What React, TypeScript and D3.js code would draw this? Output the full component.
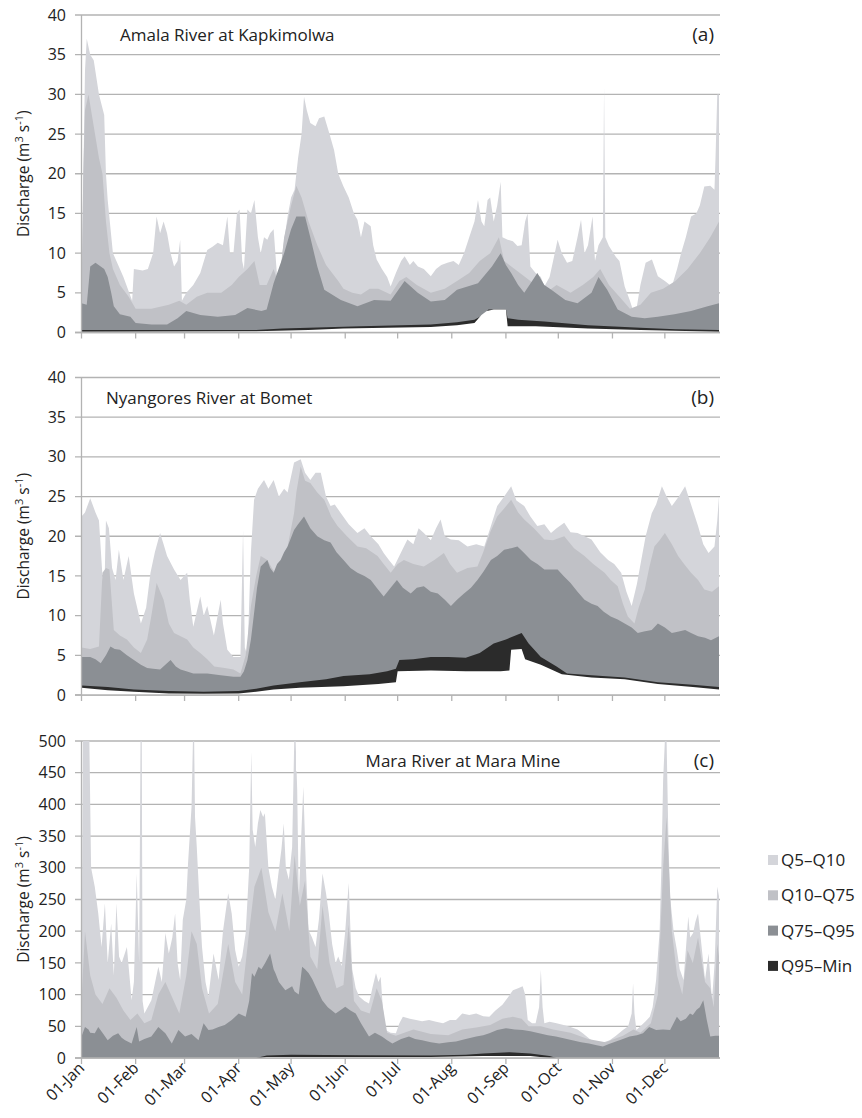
import React from "react";
import * as d3 from "d3";

type Pt = [number, number];

// ---------- axis categories ----------
const monthLabels = ["01-Jan", "01-Feb", "01-Mar", "01-Apr", "01-May", "01-Jun", "01-Jul", "01-Aug", "01-Sep", "01-Oct", "01-Nov", "01-Dec"];
const monthDays = [0, 31, 59, 90, 120, 151, 181, 212, 243, 273, 304, 334];
const seriesNames = ["Q5–Q10", "Q10–Q75", "Q75–Q95", "Q95–Min"];

// ---------- panel (a) Amala River at Kapkimolwa : [day, discharge] ----------
const aQ5: Pt[] = [[0,5],[2,33],[3,37],[5,35],[7,34.3],[10,30],[13,27.4],[14,20],[15,16.7],[18,10],[21,8.5],[24,7],[29,4],[30,8],[35,7.8],[38,8],[41,10],[43,14.6],[45,12.5],[47,14],[49,12.5],[51,10],[53,8.3],[55,9],[56.5,11.7],[57.5,4],[60,5],[64,6],[68,7.5],[72,10.4],[75,10.8],[78,11.3],[81,11],[83.5,14.6],[85,10],[87,10],[89,15],[90.5,15.5],[92,9],[93,8],[95,15.5],[97,15],[99,16.7],[101,12],[102.6,10],[104.5,12],[106.4,11.7],[108,12.5],[110,13],[112,7],[113,3.5],[115,10],[118,14.6],[120,17],[122,18],[124,22],[126,25],[127.4,29.7],[129,28],[131,26.4],[134,26],[136,27],[139,27.2],[142,25],[144.6,23],[147,20],[150,18.4],[153,17],[156,15],[158,14.2],[160,12],[162,14],[165.6,13.4],[167,11],[169,9.2],[172,8],[175,7],[177,5.8],[180,7.5],[183,9],[185,9.6],[188,8.5],[190,9],[192.6,8.3],[196,8],[200,7.1],[203,8],[206,8.5],[209.5,8.8],[213,9],[216,8.5],[219,10],[222,12],[225,14],[227,16.7],[229,14],[230.6,13.4],[232.5,16.7],[234,17],[236,14],[238,16],[240,19],[241,12],[244,11.7],[247,11.5],[249.6,10.9],[252,11],[254,14],[255.4,15],[257,8.3],[260,7.5],[263,7],[265,5.8],[268,7],[270,9],[272.6,11.7],[275,10],[278,8.8],[281,9],[284,12],[286,14.2],[288,10],[290,11],[292.6,14.6],[294,9],[296,11],[298.5,12],[299.2,31],[299.9,12],[302,10.9],[306,9.5],[308,9],[311,5.8],[314,4],[317,2],[320,6],[323,8.8],[326.6,9.2],[330,7.1],[334,6.5],[338,5.8],[341,8],[343.3,10],[346,12],[349,14.6],[352,15],[354,16],[356.6,18.4],[360,18.5],[362.4,18],[363,22],[364,30],[365,30]];
const aQ10: Pt[] = [[0,4],[1,20],[2,28],[4,30],[7,26],[10,22],[12,20],[14,14],[16,10],[18,8],[22,6],[27,4.5],[31,3],[40,3],[50,3.5],[56,4],[60,3.5],[66,4.5],[72,5],[80,5],[86,6],[90,7],[95,8],[99,9],[102,6],[106,6],[110,8],[113,6],[116,12],[120,16],[123,18.5],[126,17],[130,14],[135,11],[140,8.5],[147,6.5],[150,5.5],[155,5],[160,4.8],[165,5.5],[170,5.5],[177,4.8],[182,6.5],[186,7],[192,6],[200,5],[208,5.5],[215,6.5],[222,7.5],[228,9],[234,10],[239,12],[242,9],[248,8],[254,7],[260,6],[266,5],[272,6],[280,5],[287,6],[293,7],[297,8],[302,6],[308,4.5],[314,3],[320,3.5],[326,5],[333,5.5],[340,6.5],[347,8],[354,10],[360,12],[365,14]];
const aQ75: Pt[] = [[0,3.7],[3,3.5],[5,8.3],[8,8.8],[11,8.3],[13,8],[15,7],[17,5],[18.5,3.3],[22,2.3],[28,2],[31,1.2],[40,1],[49,1],[55,1.8],[60,2.7],[68,2.2],[78,2],[88,2.2],[95,3.1],[103,2.7],[106,2.9],[110,6.2],[116,10],[120,13],[123,14.6],[128,14.6],[131,12],[135,8.3],[139,5.4],[148.5,4.1],[158,3.3],[167.5,4.1],[177,4],[185,6.5],[192.5,5],[200,3.9],[208,4.1],[215,5.4],[227,6.2],[235,8.3],[240,10],[243,8.5],[246,7.5],[250,6],[253.5,5],[258,6.5],[261,7.5],[265,6],[269,5.4],[277,4.1],[284,3.7],[292,5],[296,7],[301,5.4],[307,2.9],[315,2],[322.5,1.8],[330,2],[339.5,2.3],[349,2.7],[358.5,3.3],[365,3.7]];
const aQ95: Pt[] = [[0,0.3],[100,0.3],[115,0.5],[130,0.6],[160,0.8],[200,1.0],[215,1.3],[225,1.6],[230,2.2],[233,2.9],[243,2.9],[244,1.8],[250,1.6],[265,1.4],[280,1.1],[290,0.9],[320,0.6],[340,0.4],[365,0.3]];
const aMin: Pt[] = [[0,0.1],[100,0.15],[130,0.3],[150,0.5],[200,0.7],[215,0.9],[225,1.2],[229,2.2],[232,2.7],[236,2.9],[243,2.9],[244,0.8],[260,0.8],[290,0.5],[320,0.3],[365,0.1]];

// ---------- panel (b) Nyangores River at Bomet ----------
const bQ5: Pt[] = [[0,22.5],[2,23],[5,24.8],[8,23],[10,22],[12,15],[12.8,10.3],[14,22],[15.7,21],[17.5,16],[19.5,14.5],[21.4,18.3],[24,14.5],[27,17.5],[30,12.8],[34,9],[37,11],[39.5,15.4],[42,18],[45,20.4],[47,19],[49,17.5],[53,15.8],[56.7,14.5],[60.5,15.4],[62,12],[64,8.6],[68,12.4],[70,10],[72,11.2],[75.8,7.5],[79.7,12],[81,9],[83.5,5.7],[87,4.8],[91,4.8],[92.5,20.8],[93.5,6],[95,5],[97,18],[98.8,24.6],[101,26],[104.5,27.1],[107,26],[110,27.1],[113,25],[116,26],[118,25.5],[121.7,29.3],[125.5,29.7],[128,28],[131,27.1],[134,28],[137,28],[140,25],[142.6,23.8],[145,24],[148.5,22.9],[153,21.5],[158,20.4],[162,21],[165.6,20],[170,19],[173,17.9],[176,17],[179,16.2],[183,18],[186.6,19.6],[190,19],[193,21],[196,20.4],[200,19.5],[203,21],[205.6,22.1],[208,20],[211.5,19.6],[216,19.5],[221,18.7],[226,19],[230.6,18.7],[234,21],[238,23.8],[242,25],[246,26.3],[249,24.5],[253.5,23.8],[257,22.5],[261,21.3],[265,21.5],[268.8,20.4],[272,21],[276.4,21.7],[280,20.5],[284,20.4],[288,20],[292,19.6],[297,18],[301.5,17],[305,16.5],[309,15.4],[312,13],[315,11.2],[318,14],[320.5,17],[323,20],[326.5,22.9],[329,24],[332.3,26.3],[335,25],[338,23.8],[342,25],[345.6,26.3],[349,24],[353,21.3],[356,19],[359,17.9],[362.4,18.7],[364,22],[365,25]];
const bQ10: Pt[] = [[0,6],[5,5.8],[10,6.1],[12,15.4],[14,16],[16,15.8],[18.5,8.2],[22,7.5],[26,7],[30,6],[34,5.3],[37.6,7],[40,10],[43,14.1],[47,12],[50,9],[53,7.8],[60.5,7],[64,6],[68,5.3],[72,4.5],[76,3.6],[82,3.4],[87,3.2],[91,2.7],[94,5],[97,11.2],[100,15],[102.6,17.5],[106.4,17],[109,16],[112,15],[115,17],[118,18.7],[121.7,22.9],[123,25.5],[125.5,28.8],[128,27],[131,26.7],[135,25.5],[139,24.6],[143,22.5],[146.6,21.3],[152,20],[158,18.7],[163,18.5],[169.5,17.5],[173,16.5],[177,15.4],[181,16.5],[184.6,17],[190,16.5],[196,16.2],[202,17],[207.5,17.9],[211,16.5],[215,15.4],[221,16],[226.7,16.2],[230,18],[234,20.5],[238,22.5],[242,23.5],[246,24.6],[250,23],[253.5,22.1],[259,21],[265,19.6],[270,19.5],[276.4,20],[282,18.5],[288,17.5],[293,16.5],[299.5,15.4],[303,14.5],[307,13.7],[310,11.5],[312.8,9.9],[316.6,9],[319,11],[322.5,13.3],[325,16],[328,18.7],[331,19.5],[334,20.4],[338,19],[341.6,17.5],[345,16.5],[349,15.4],[353,14.5],[356.6,13.3],[361,13],[365,13.7]];
const bQ75: Pt[] = [[0,4.8],[5,4.8],[8,4.5],[11,4],[14,5],[16.6,6.1],[19,5.8],[22,5.7],[26,5],[30,4.4],[34,3.8],[37.6,3.4],[41,3.3],[45,3.2],[48,3.8],[51,4.4],[54,3.6],[56.7,3.2],[60,3],[64,2.7],[72,2.7],[79.7,2.5],[87,2.3],[91,2.3],[93,3],[95,4.4],[97,7],[98.8,10.3],[100.5,13.5],[102.6,16.2],[106.4,17],[108,16],[110,15.4],[112,16.5],[114,17],[116,18],[118,18.7],[121.7,20.8],[124,21.5],[127.4,22.5],[131,21],[135,20],[139,19.5],[142.6,19.2],[146,18],[150,17],[154,16],[158,15.4],[162,15],[165.6,14.5],[169,13.5],[173,12.4],[177,13.5],[180.6,14.5],[184,13.5],[188.5,12.8],[192,13.5],[196,13.7],[200,13],[204,12.8],[208,12],[211.5,11.2],[215,12],[219,12.8],[223,13.5],[226.7,14.5],[230,15.5],[234.4,17],[238,17.5],[242,18.3],[246,18.5],[249.6,18.7],[253,18],[257.3,17],[261,16.5],[265,15.8],[269,15.8],[272.6,15.8],[276,15],[280,14.1],[284,13],[288,12],[292,11.5],[295.5,11.2],[299,10.5],[303,9.9],[307,9.5],[311,9],[315,8.5],[318.5,7.8],[322,8],[326.5,8.2],[330,9],[334,8.5],[338,7.8],[342,8],[345.6,8.2],[349,7.8],[353,7.4],[357,7.2],[360.4,6.9],[365,7.4]];
const bQ95: Pt[] = [[0,1.2],[15,1.0],[30,0.7],[50,0.5],[70,0.4],[90,0.5],[100,0.8],[110,1.2],[125,1.6],[140,2.0],[150,2.4],[165,2.6],[175,3.0],[180,3.3],[182,4.4],[190,4.5],[200,4.8],[210,4.8],[220,4.7],[228,5.3],[236,6.5],[243,7.0],[252,7.8],[256,6.5],[263,4.8],[272,3.6],[278,2.7],[292,2.5],[311,2.2],[330,1.6],[350,1.3],[365,1.0]];
const bMin: Pt[] = [[0,0.9],[15,0.6],[30,0.4],[50,0.2],[70,0.15],[90,0.2],[100,0.4],[110,0.7],[125,0.9],[150,1.1],[170,1.4],[180,1.6],[181,3.0],[200,3.1],[220,3.0],[240,3.0],[245,3.1],[246,5.7],[252,5.8],[254,4.5],[263,3.8],[275,2.6],[292,2.2],[311,2.0],[330,1.4],[350,1.0],[365,0.7]];

// ---------- panel (c) Mara River at Mara Mine ----------
const cQ5: Pt[] = [[0,120],[0.8,500],[4.5,500],[5.5,300],[7.6,270],[9.6,228],[11.5,175],[13.4,244],[15,150],[17,212],[18.5,130],[20,244],[21.5,160],[23,150],[26,175],[28.7,91],[30,120],[31.6,291],[33,150],[33.8,500],[34.5,500],[35,90],[36,70],[40,91],[44,144],[46,120],[48,197],[50,165],[52,190],[53.6,228],[55,150],[56.5,123],[58,218],[60,250],[61,307],[63,396],[63.8,500],[64.5,500],[65,380],[66,333],[67.5,250],[69,175],[71,120],[72.7,97],[75.6,165],[78.5,123],[81,200],[84,260],[86,228],[88,170],[90,144],[92,160],[94,197],[96,300],[97.2,483],[98,360],[99.5,333],[101,370],[102.4,391],[104,380],[105,386],[107,300],[109,270],[111,250],[113,297],[114.5,330],[115.8,370],[117,300],[118.7,281],[120.6,333],[121.8,500],[122.6,500],[123.5,423],[124.4,250],[125.5,330],[127,428],[128.5,300],[130,202],[132,190],[134,175],[136,220],[138,291],[140,260],[141.6,228],[143.5,180],[145.5,150],[147,160],[149,145],[151,200],[153,276],[154,200],[155,140],[157,110],[159,97],[162,90],[164.6,86],[166.5,110],[168.6,134],[170,120],[171.3,128],[172.5,80],[174,44],[177,40],[180,39],[182,55],[184,65],[188,62],[191.6,60],[195,58],[199,60],[203,57],[207,55],[211,60],[214.4,60],[218,70],[222,68],[226,70],[230,66],[233.5,65],[237,75],[241,84],[244,95],[247,107],[250,110],[252.6,113],[254,100],[255.5,60],[258,55],[260,55],[262,80],[263,139],[264,80],[265,55],[268,57],[272,55],[276,52],[280,49],[284,45],[287,39],[291,30],[295,23],[299,25],[302.4,28],[306,35],[310,44],[313,50],[315,70],[315.8,118],[316.6,70],[317.7,44],[320,50],[323,58],[325.4,65],[327,80],[329,123],[331,200],[332,300],[333,438],[334,500],[335,500],[336,350],[337,254],[339,200],[340.9,170],[342.5,140],[344.7,123],[346,170],[347.4,223],[348.5,190],[350.2,197],[351.5,215],[353,228],[354.5,190],[357,123],[359,165],[361,91],[362.5,150],[364,270],[365,255]];
const cQ10: Pt[] = [[0,90],[2,200],[5,130],[8,100],[12,85],[16,110],[20,95],[24,75],[28,60],[32,70],[36,55],[40,60],[44,100],[48,120],[52,95],[56,70],[60,130],[63,200],[66,180],[69,110],[73,70],[78,85],[84,180],[88,120],[92,100],[96,200],[99,270],[103,300],[107,230],[111,200],[115,260],[119,200],[122,320],[125,240],[128,280],[131,160],[135,140],[138,240],[142,150],[146,110],[150,115],[153,210],[156,90],[160,75],[165,70],[169,110],[172,90],[175,40],[180,35],[190,45],[200,38],[210,36],[218,45],[226,48],[234,52],[241,62],[247,65],[252,62],[256,50],[263,50],[270,45],[280,40],[290,30],[300,25],[310,35],[316,45],[320,40],[326,55],[330,100],[333,300],[335,380],[338,200],[341,130],[344,100],[347,170],[350,150],[353,190],[357,120],[360,110],[362,80],[364,180],[365,160]];
const cQ75: Pt[] = [[0,34],[2,49],[4,45],[5,40],[7.6,39],[9.6,49],[12,40],[15,28],[18,35],[21,39],[23,32],[25,28],[28.7,23],[31.6,49],[33,26],[36,30],[40,34],[44,49],[48,39],[51.7,23],[55.5,44],[59.3,34],[63,38],[67,28],[69.9,55],[72.7,44],[75,45],[78.5,49],[82,52],[86,60],[90,70],[94,65],[96,90],[97.6,134],[99,128],[101.4,144],[103,140],[105,149],[108,165],[110,140],[111,134],[113,120],[116.7,107],[120.6,113],[122,105],[124.4,100],[126.3,144],[128,140],[130,134],[132,125],[134,113],[137.8,91],[141,80],[145.5,70],[148,75],[151,81],[154,75],[157,70],[160,55],[164.6,34],[168,40],[172,34],[175,28],[178,23],[183,30],[187.5,34],[191,30],[195,28],[200,25],[204.8,23],[210,25],[214.4,26],[220,30],[226,34],[230,36],[233.5,39],[238,44],[243,47],[248,45],[252.6,44],[257,42],[262,39],[267,36],[271.6,34],[276,31],[281,28],[286,25],[290.6,23],[295,20],[298.5,18],[302,22],[306,26],[310,30],[313.8,34],[318,36],[321.5,39],[325,49],[329,44],[333,45],[337,44],[339,55],[340.9,65],[343,58],[346,62],[348.4,70],[350,68],[352.2,76],[354,80],[356,91],[358,60],[360,34],[363,35],[365,35]];
const cQ95: Pt[] = [[0,0],[100,0],[103,2],[106,4],[120,5],[160,4.5],[200,4],[220,5],[230,7],[245,9],[257,7],[268,3],[272,0],[365,0]];
const cMin: Pt[] = [[0,0],[103,0],[106,1.5],[200,1.5],[230,3],[257,3],[268,0],[365,0]];

// ---------- styles ----------
const FILLS = ["#d4d5da", "#c0c1c6", "#8b8f94", "#2b2b2b", "#ffffff"];
const LEG_FILLS = ["#d4d5da", "#c0c1c6", "#8b8f94", "#2b2b2b"];
const GRID = "#b3b3b3";
const FONT = "'Open Sans', 'DejaVu Sans', sans-serif";

const LEFT = 81.5;
const RIGHT = 719;

type PanelDef = {
  id: string;
  title: string;
  tag: string;
  top: number;
  bottom: number;
  max: number;
  step: number;
  series: Pt[][];
  titleX: number;
  titleAnchor: "start" | "middle";
  titleBox?: [number, number];
};

const panels: PanelDef[] = [
  { id: "a", title: "Amala River at Kapkimolwa", tag: "(a)", top: 15, bottom: 332.5, max: 40, step: 5, series: [aQ5, aQ10, aQ75, aQ95, aMin], titleX: 120, titleAnchor: "start" },
  { id: "b", title: "Nyangores River at Bomet", tag: "(b)", top: 377.5, bottom: 695, max: 40, step: 5, series: [bQ5, bQ10, bQ75, bQ95, bMin], titleX: 106, titleAnchor: "start" },
  { id: "c", title: "Mara River at Mara Mine", tag: "(c)", top: 741, bottom: 1058, max: 500, step: 50, series: [cQ5, cQ10, cQ75, cQ95, cMin], titleX: 463, titleAnchor: "middle", titleBox: [296, 660] },
];

const x = d3.scaleLinear().domain([0, 365]).range([LEFT, RIGHT]);

function Panel({ p }: { p: PanelDef }) {
  const y = d3.scaleLinear().domain([0, p.max]).range([p.bottom, p.top]);
  const area = d3
    .area<Pt>()
    .x((d) => x(d[0]))
    .y0(y(0))
    .y1((d) => y(Math.min(d[1], p.max)))
    .curve(d3.curveLinear);
  const ticks = d3.range(0, p.max + p.step / 2, p.step);
  const clipId = `clip-${p.id}`;
  const midY = (p.top + p.bottom) / 2;
  return (
    <g>
      <defs>
        <clipPath id={clipId}>
          <rect x={LEFT} y={p.top} width={RIGHT - LEFT} height={p.bottom - p.top} />
        </clipPath>
      </defs>
      {ticks.map((t) => (
        <line key={`g${t}`} x1={75} x2={RIGHT + 1} y1={y(t)} y2={y(t)} stroke={GRID} strokeWidth={1.3} />
      ))}
      <g clipPath={`url(#${clipId})`}>
        {p.series.map((s, i) => (
          <path key={i} d={area(s) || ""} fill={FILLS[i]} />
        ))}
      </g>
      {p.titleBox && (
        <rect x={p.titleBox[0]} y={p.top + 1.5} width={p.titleBox[1] - p.titleBox[0]} height={y(p.max - p.step) - p.top - 3} fill="#ffffff" />
      )}
      <line x1={LEFT} x2={LEFT} y1={p.top} y2={p.bottom} stroke={GRID} strokeWidth={1.3} />
      <line x1={75} x2={RIGHT + 1} y1={p.bottom} y2={p.bottom} stroke={GRID} strokeWidth={1.3} />
      {monthDays.map((d) => (
        <line key={`t${d}`} x1={x(d)} x2={x(d)} y1={p.bottom} y2={p.bottom + 6} stroke={GRID} strokeWidth={1.3} />
      ))}
      {ticks.map((t) => (
        <text key={`l${t}`} x={66} y={y(t)} dy="0.35em" textAnchor="end" fontSize={16} fill="#222" fontFamily={FONT}>
          {t}
        </text>
      ))}
      <text transform={`translate(29,${midY}) rotate(-90)`} textAnchor="middle" fontSize={15.5} fill="#222" fontFamily={FONT}>
        Discharge (m<tspan dy="-6" fontSize={11}>3</tspan>
        <tspan dy="6"> s</tspan>
        <tspan dy="-6" fontSize={11}>-1</tspan>
        <tspan dy="6">)</tspan>
      </text>
      <text x={p.titleX} y={p.top + 26} textAnchor={p.titleAnchor} fontSize={17} fill="#222" fontFamily={FONT}>
        {p.title}
      </text>
      <text x={714} y={p.top + 26} textAnchor="end" fontSize={19} fill="#222" fontFamily={FONT}>
        {p.tag}
      </text>
    </g>
  );
}

export default function App() {
  const bottomC = panels[2].bottom;
  return (
    <svg width={862} height={1118} style={{ position: "absolute", left: 0, top: 0, background: "#fff" }}>
      <rect width={862} height={1118} fill="#fff" />
      {panels.map((p) => (
        <Panel key={p.id} p={p} />
      ))}
      {monthLabels.map((m, i) => (
        <text
          key={m}
          transform={`translate(${x(monthDays[i]) + 4},${bottomC + 11}) rotate(-45)`}
          textAnchor="end"
          fontSize={16}
          fill="#222"
          fontFamily={FONT}
        >
          {m}
        </text>
      ))}
      {seriesNames.map((n, i) => (
        <g key={n} transform={`translate(768,${860 + i * 35.3})`}>
          <rect x={0} y={-5} width={10} height={10} fill={LEG_FILLS[i]} />
          <text x={13} y={0} dy="0.35em" fontSize={17} fill="#222" fontFamily={FONT}>
            {n}
          </text>
        </g>
      ))}
    </svg>
  );
}
